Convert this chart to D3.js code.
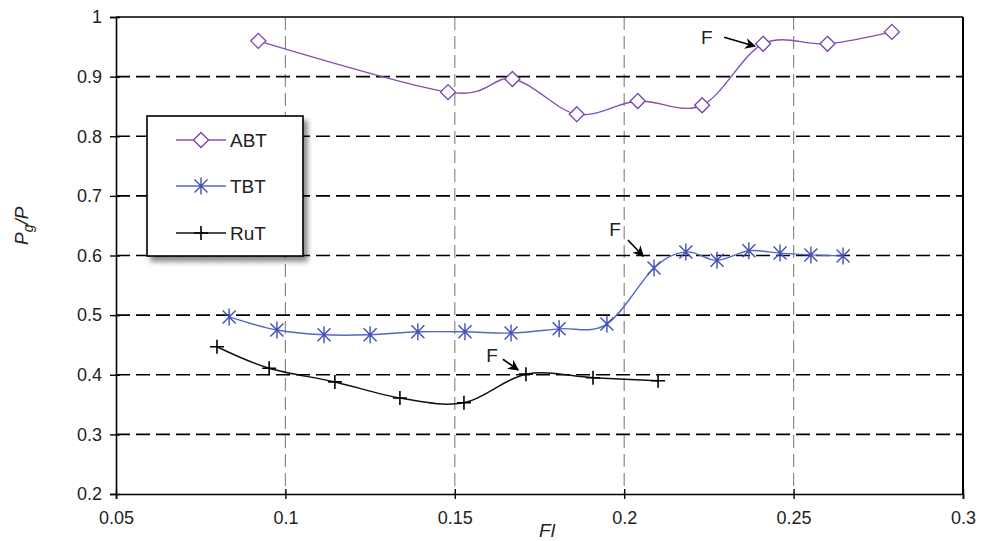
<!DOCTYPE html>
<html><head><meta charset="utf-8">
<script src="https://cdn.jsdelivr.net/npm/d3@7/dist/d3.min.js"></script>
<style>
html,body{margin:0;padding:0;background:#fff;}
svg{display:block;font-family:"Liberation Sans",Arial,sans-serif;}
</style></head>
<body>
<svg id="chart" width="986" height="541"></svg>
<script>
// ---- data ----
const abtX = [0.092, 0.148, 0.167, 0.186, 0.204, 0.223, 0.241, 0.260, 0.279];
const abtY = [0.960, 0.874, 0.896, 0.837, 0.859, 0.852, 0.955, 0.955, 0.975];
const tbtX = [0.0834, 0.0975, 0.1114, 0.1250, 0.1391, 0.1530, 0.1666, 0.1808, 0.1949, 0.2088, 0.2182, 0.2274, 0.2368, 0.2460, 0.2551, 0.2646];
const tbtY = [0.497, 0.475, 0.467, 0.467, 0.472, 0.472, 0.470, 0.477, 0.485, 0.579, 0.606, 0.592, 0.608, 0.604, 0.601, 0.599];
const rutX = [0.0798, 0.0952, 0.1146, 0.1338, 0.1527, 0.1710, 0.1908, 0.2100];
const rutY = [0.447, 0.411, 0.388, 0.361, 0.353, 0.401, 0.395, 0.390];
const xTicks = [0.05, 0.1, 0.15, 0.2, 0.25, 0.3];
const yTicks = [0.2, 0.3, 0.4, 0.5, 0.6, 0.7, 0.8, 0.9, 1];
const seriesNames = ["ABT", "TBT", "RuT"];
// annotation "F": text position, arrow start, arrow end (data units)
const annText = [[0.2244, 0.966], [0.1973, 0.643], [0.1610, 0.433]];
const annFrom = [[0.2295, 0.966], [0.2011, 0.626], [0.1642, 0.426]];
const annTo   = [[0.2386, 0.951], [0.2056, 0.599], [0.1687, 0.408]];

// ---- layout ----
const L = 116, R = 963, T = 17, B = 494;
const svg = d3.select("#chart");
const x = d3.scaleLinear().domain([0.05, 0.3]).range([L, R]);
const y = d3.scaleLinear().domain([0.2, 1]).range([B, T]);

const defs = svg.append("defs");
const sh = defs.append("filter").attr("id","shadow").attr("x","-20%").attr("y","-20%").attr("width","150%").attr("height","150%");
sh.append("feGaussianBlur").attr("in","SourceAlpha").attr("stdDeviation",2.5).attr("result","b");
sh.append("feOffset").attr("in","b").attr("dx",4).attr("dy",5).attr("result","o");
sh.append("feComponentTransfer").attr("in","o").attr("result","o2")
  .append("feFuncA").attr("type","linear").attr("slope",0.45);
const m = sh.append("feMerge"); m.append("feMergeNode").attr("in","o2"); m.append("feMergeNode").attr("in","SourceGraphic");
defs.append("marker").attr("id","arr").attr("viewBox","0 0 10 10").attr("refX",9).attr("refY",5)
  .attr("markerWidth",11).attr("markerHeight",11).attr("markerUnits","userSpaceOnUse").attr("orient","auto")
  .append("path").attr("d","M0,0 L10,5 L0,10 L3,5 Z").attr("fill","#000");

// vertical grid
svg.append("g").selectAll("line").data(xTicks.slice(1,-1)).join("line")
  .attr("x1", d=>x(d)).attr("x2", d=>x(d)).attr("y1", T).attr("y2", B)
  .attr("stroke","#8a8a8a").attr("stroke-width",1.2).attr("stroke-dasharray","13,6");
// horizontal grid
svg.append("g").selectAll("line").data(yTicks.slice(1,-1)).join("line")
  .attr("x1", L).attr("x2", R).attr("y1", d=>y(d)).attr("y2", d=>y(d))
  .attr("stroke","#000").attr("stroke-width",1.6).attr("stroke-dasharray","14,6");

// frame
svg.append("line").attr("x1",L).attr("x2",R).attr("y1",T).attr("y2",T).attr("stroke","#000").attr("stroke-width",1.6);
svg.append("line").attr("x1",R).attr("x2",R).attr("y1",T).attr("y2",B).attr("stroke","#000").attr("stroke-width",2);

// axes
const xAxis = svg.append("g").attr("transform",`translate(0,${B})`)
  .call(d3.axisBottom(x).tickValues(xTicks).tickSize(5).tickFormat(d=>String(+d.toFixed(2))));
const yAxis = svg.append("g").attr("transform",`translate(${L},0)`)
  .call(d3.axisLeft(y).tickValues(yTicks).tickSize(6).tickFormat(d=>String(+d.toFixed(1))));
[xAxis, yAxis].forEach(a=>{
  a.select(".domain").attr("stroke","#000").attr("stroke-width",1.6);
  a.selectAll(".tick line").attr("stroke","#000").attr("stroke-width",1.4);
  a.selectAll(".tick text").attr("fill","#222").style("font-size","18px").style("font-family","'Liberation Sans',Arial,sans-serif");
});
xAxis.selectAll(".tick line").attr("y1",-5);
xAxis.selectAll(".tick text").attr("dy","1.2em");
yAxis.selectAll(".tick line").attr("x2",4).attr("x1",-6);
yAxis.selectAll(".tick text").attr("x",-14);

// axis titles
svg.append("text").attr("x", 547).attr("y", 537).attr("text-anchor","middle")
  .style("font-size","19px").style("font-style","italic").attr("fill","#222").text("Fl");
const yt = svg.append("text").attr("transform",`translate(28,${(y(0.6)+y(0.7))/2}) rotate(-90)`)
  .attr("text-anchor","middle").style("font-size","19px").style("font-style","italic").attr("fill","#222");
yt.append("tspan").text("P");
yt.append("tspan").attr("dy",5).style("font-size","14px").text("g");
yt.append("tspan").attr("dy",-5).text("/P");

// series
const smooth = d3.line().curve(d3.curveCatmullRom.alpha(0)).x(d=>x(d[0])).y(d=>y(d[1]));
const zip = (a,b)=>a.map((v,i)=>[v,b[i]]);
const abt = zip(abtX, abtY), tbt = zip(tbtX, tbtY), rut = zip(rutX, rutY);
const colA = "#7B3FA8", colT = "#4050B5", colR = "#000";

svg.append("path").datum(abt).attr("d",smooth).attr("fill","none").attr("stroke","#8550B0").attr("stroke-width",1.4);
svg.append("path").datum(tbt).attr("d",smooth).attr("fill","none").attr("stroke","#5565C5").attr("stroke-width",1.4);
svg.append("path").datum(rut).attr("d",smooth).attr("fill","none").attr("stroke","#111").attr("stroke-width",1.5);

function diamond(g, cx, cy){
  g.append("path").attr("d",`M${cx},${cy-7.5}L${cx+7.5},${cy}L${cx},${cy+7.5}L${cx-7.5},${cy}Z`)
   .attr("fill","#fff").attr("stroke",colA).attr("stroke-width",1.3);
}
function star(g, cx, cy){
  g.append("path").attr("d",`M${cx},${cy-8.5}V${cy+8.5}M${cx-6.5},${cy-6.5}L${cx+6.5},${cy+6.5}M${cx-6.5},${cy+6.5}L${cx+6.5},${cy-6.5}`)
   .attr("fill","none").attr("stroke",colT).attr("stroke-width",1.4);
}
function plus(g, cx, cy){
  g.append("path").attr("d",`M${cx},${cy-7}V${cy+7}M${cx-7},${cy}H${cx+7}`)
   .attr("fill","none").attr("stroke",colR).attr("stroke-width",1.6);
}
const gm = svg.append("g");
abt.forEach(d=>diamond(gm, x(d[0]), y(d[1])));
tbt.forEach(d=>star(gm, x(d[0]), y(d[1])));
rut.forEach(d=>plus(gm, x(d[0]), y(d[1])));

// annotations
annText.forEach((p,i)=>{
  svg.append("text").attr("x",x(p[0])).attr("y",y(p[1])).attr("text-anchor","middle")
    .attr("dominant-baseline","central").style("font-size","19px").attr("fill","#222").text("F");
  svg.append("line").attr("x1",x(annFrom[i][0])).attr("y1",y(annFrom[i][1]))
    .attr("x2",x(annTo[i][0])).attr("y2",y(annTo[i][1]))
    .attr("stroke","#000").attr("stroke-width",1.6).attr("marker-end","url(#arr)");
});

// legend
const lg = svg.append("g");
lg.append("rect").attr("x",147).attr("y",116).attr("width",156).attr("height",140)
  .attr("fill","#fff").attr("stroke","#000").attr("stroke-width",1.6).attr("filter","url(#shadow)");
const ly = [140, 186, 233];
const lcol = ["#8550B0", "#5565C5", "#111"];
const lmark = [diamond, star, plus];
seriesNames.forEach((n,i)=>{
  lg.append("line").attr("x1",176).attr("x2",226).attr("y1",ly[i]).attr("y2",ly[i]).attr("stroke",lcol[i]).attr("stroke-width",1.4);
  lmark[i](lg, 201, ly[i]);
  lg.append("text").attr("x",230).attr("y",ly[i]).attr("dominant-baseline","central")
    .style("font-size","19px").attr("fill","#222").text(n);
});
</script>
</body></html>
